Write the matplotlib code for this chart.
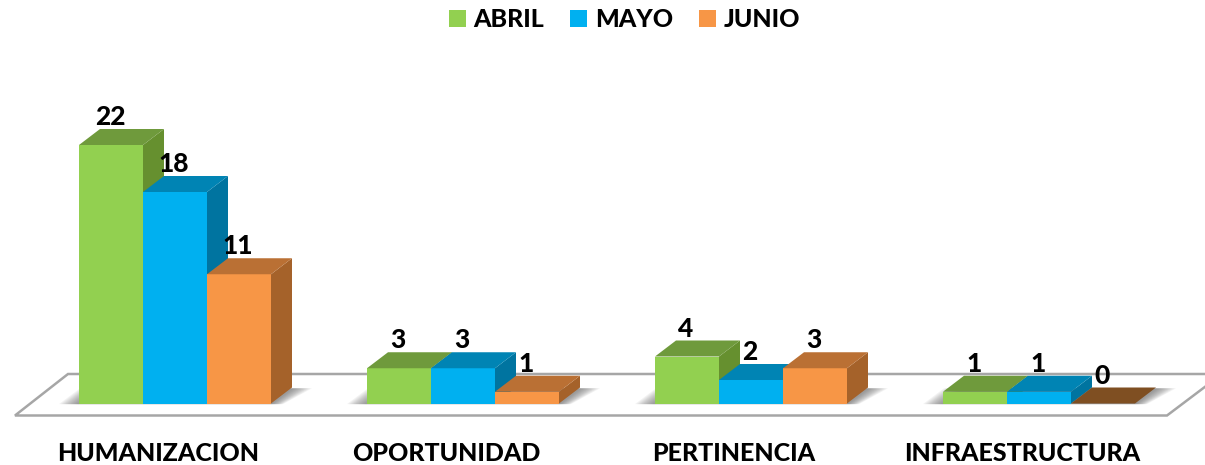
import matplotlib
matplotlib.use("Agg")
import matplotlib.pyplot as plt
from matplotlib.patches import Polygon, Patch

plt.rcParams['font.family'] = ['Lato', 'DejaVu Sans']
TEXT_WEIGHT = 900

categories = ["HUMANIZACION", "OPORTUNIDAD", "PERTINENCIA", "INFRAESTRUCTURA"]
series_names = ["ABRIL", "MAYO", "JUNIO"]
abril = [22, 3, 4, 1]
mayo = [18, 3, 2, 1]
junio = [11, 1, 3, 0]
series_values = [abril, mayo, junio]

front_colors = ["#92D050", "#00B0F0", "#F79646"]
top_colors = ["#6F9A3C", "#0084B4", "#BA7034"]
side_colors = ["#66902F", "#0074A0", "#A5622A"]
zero_top = "#7F4F22"

W, H = 1205, 465
PX_X = 288.0      # pixels per category step
PX_Y = 11.75      # pixels per value unit
X0, Y0 = 175.0, 403.5   # pixel of the first group's centre / baseline
BAR_W = 64 / PX_X
DX, DY = 21 / PX_X, 16 / PX_Y

fig = plt.figure(figsize=(W / 100, H / 100), dpi=100)
ax = fig.add_axes([0, 0, 1, 1])
ax.set_xlim(-X0 / PX_X, (W - X0) / PX_X)
ax.set_ylim((Y0 - H) / PX_Y, Y0 / PX_Y)
ax.axis("off")

# floor
fl = lambda px, py: ((px - X0) / PX_X, (Y0 - py) / PX_Y)
ax.add_patch(Polygon([fl(15, 415.5), fl(1167, 415.5), fl(1222, 374), fl(68, 374)],
                     closed=True, fc="white", ec="#A6A6A6", lw=1.8, zorder=1))

# soft shadows on the floor
for g in range(len(categories)):
    left = g - 1.5 * BAR_W
    right = g + 1.5 * BAR_W
    for k in range(12):
        s = 1 - k / 12
        ex = s * 20 / PX_X
        ax.add_patch(Polygon([(left - ex, -0.05), (right + 0.6 * ex, -0.05),
                              (right + DX + 1.0 * ex, DY * 0.95), (left + DX - ex, DY * 0.95)],
                             closed=True, fc="#606060", ec="none", alpha=0.075, zorder=2))

# bars
for g in range(len(categories)):
    for s, vals in enumerate(series_values):
        v = vals[g]
        x0 = g + (s - 1.5) * BAR_W
        x1 = x0 + BAR_W
        if v > 0:
            ax.add_patch(Polygon([(x1, 0), (x1 + DX, DY), (x1 + DX, v + DY), (x1, v)],
                                 closed=True, fc=side_colors[s], ec="none", zorder=3 + s))
            ax.bar(x0 + BAR_W / 2, v, width=BAR_W, color=front_colors[s], zorder=3 + s)
        top = top_colors[s] if v > 0 else zero_top
        ax.add_patch(Polygon([(x0, v), (x1, v), (x1 + DX, v + DY), (x0 + DX, v + DY)],
                             closed=True, fc=top, ec="none", zorder=3 + s))
        ax.annotate(str(v), (x0 + BAR_W / 2, v), xytext=(-0.7, 20), textcoords="offset points",
                    ha="center", va="center", fontsize=19, fontweight=TEXT_WEIGHT,
                    color="black", zorder=10)

# category labels
for g, name in enumerate(categories):
    ax.annotate(name, (g, -4.25), xytext=(-12.2, 0), textcoords="offset points",
                ha="center", va="center", fontsize=18, fontweight=TEXT_WEIGHT,
                color="black", zorder=10)

handles = [Patch(fc=c, ec="none", label=n) for c, n in zip(front_colors, series_names)]
fig.legend(handles=handles, loc="upper center", bbox_to_anchor=(0.5183, 0.99), ncol=3,
           frameon=False, prop={"size": 18, "weight": TEXT_WEIGHT},
           handlelength=0.68, handleheight=0.68, handletextpad=0.3, columnspacing=1.05,
           borderaxespad=0, borderpad=0.15)

fig.savefig("out.png", dpi=100)
